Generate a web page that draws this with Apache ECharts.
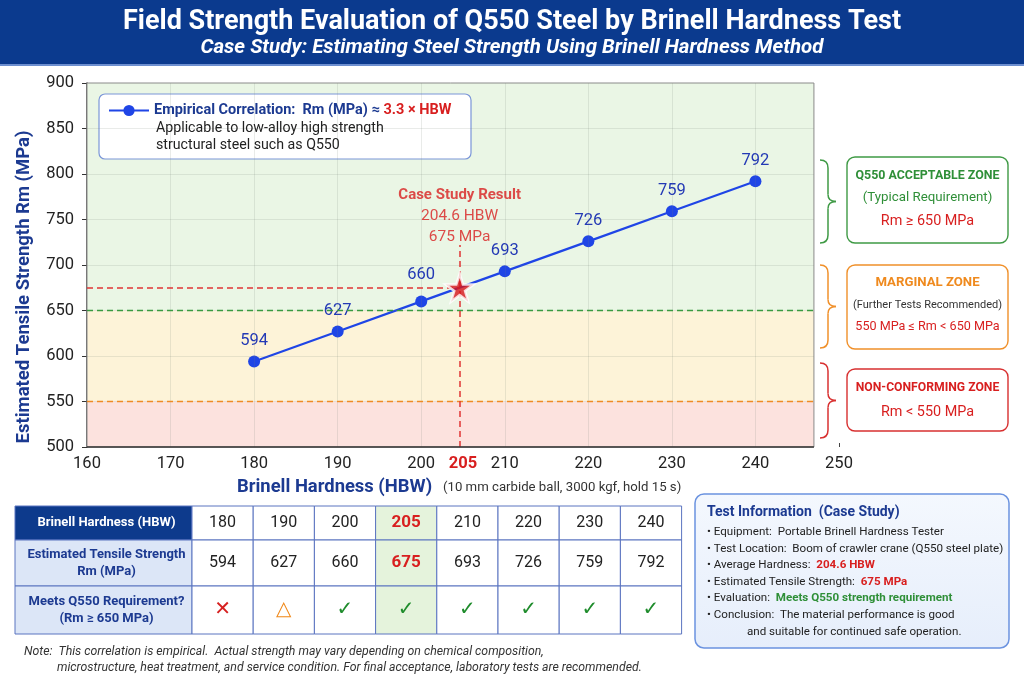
<!DOCTYPE html>
<html>
<head>
<meta charset="utf-8">
<script src="https://cdn.jsdelivr.net/npm/echarts@6.0.0/dist/echarts.min.js"></script>
<style>
  html, body { margin: 0; padding: 0; background: #fff; }
  #chart { width: 1024px; height: 683px; }
</style>
</head>
<body>
<div id="chart"></div>
<script>
// chart data
const hardness = [180, 190, 200, 210, 220, 230, 240];
const strength = [594, 627, 660, 693, 726, 759, 792];
const caseHardness = 204.6;
const caseStrength = 675;
const xTicks = [160, 170, 180, 190, 200, 210, 220, 230, 240, 250];
const yTicks = [500, 550, 600, 650, 700, 750, 800, 850, 900];
const acceptLimit = 650;
const marginLimit = 550;

// table data
const tableHardness = [180, 190, 200, 205, 210, 220, 230, 240];
const tableStrength = [594, 627, 660, 675, 693, 726, 759, 792];
const tableMeets = ['no', 'partial', 'yes', 'yes', 'yes', 'yes', 'yes', 'yes'];
const caseColumn = 3;

const FONT = 'Roboto, "Noto Sans", sans-serif';
const NAVY = '#1c3a91';
const RED = '#d81f1f';
const GREEN = '#2f8f38';
const ORANGE = '#ef8a1e';
const BLUE = '#1f45e6';

const plotEnd = 247; // where the shaded plot area stops
const yMin = yTicks[0], yMax = yTicks[yTicks.length - 1];
const xMin = xTicks[0];

const myChart = echarts.init(document.getElementById('chart'));

// grid lines only inside the shaded area
const gridLines = [];
xTicks.filter(v => v > xMin && v < plotEnd).forEach(v => {
    gridLines.push([{ coord: [v, yMin] }, { coord: [v, yMax] }]);
});
yTicks.filter(v => v > yMin && v < yMax).forEach(v => {
    gridLines.push([{ coord: [xMin, v] }, { coord: [plotEnd, v] }]);
});

// curly brace made of curves and lines
const brace = (top, bottom, color) => {
    const mid = (top + bottom) / 2;
    const st = { fill: 'none', stroke: color, lineWidth: 1.5 };
    const bz = (x1, y1, cx, cy, x2, y2) => ({ type: 'bezierCurve', z: 5, shape: { x1, y1, x2, y2, cpx1: cx, cpy1: cy }, style: st });
    const ln = (x1, y1, x2, y2) => ({ type: 'line', z: 5, shape: { x1, y1, x2, y2 }, style: st });
    return [
        bz(820, top, 828, top, 828, top + 8),
        ln(828, top + 8, 828, mid - 7),
        bz(828, mid - 7, 828, mid, 836, mid),
        bz(836, mid, 828, mid, 828, mid + 7),
        ln(828, mid + 7, 828, bottom - 8),
        bz(828, bottom - 8, 828, bottom, 820, bottom),
    ];
};

const txt = (x, y, text, opts) => ({
    type: 'text', z: 10, x, y,
    style: Object.assign({ text, align: 'center', verticalAlign: 'middle', fontFamily: FONT, fontSize: 13, fill: '#222' }, opts || {}),
});

const graphics = [];

// title banner
graphics.push({ type: 'rect', z: 1, shape: { x: 0, y: 0, width: 1024, height: 65 }, style: { fill: '#0b3a8e' } });
graphics.push({ type: 'rect', z: 1, shape: { x: 0, y: 64, width: 1024, height: 2 }, style: { fill: '#6d8fd0' } });
graphics.push(txt(512, 22, 'Field Strength Evaluation of Q550 Steel by Brinell Hardness Test', { fill: '#fff', fontSize: 27, fontWeight: 'bold' }));
graphics.push(txt(512, 48, 'Case Study: Estimating Steel Strength Using Brinell Hardness Method', { fill: '#fff', fontSize: 20.5, fontStyle: 'italic', fontWeight: 'bold' }));

// axis titles
graphics.push({
    type: 'text', z: 10, x: 24, y: 287, rotation: Math.PI / 2,
    style: { text: 'Estimated Tensile Strength Rm (MPa)', align: 'center', verticalAlign: 'middle', fontFamily: FONT, fontSize: 18.5, fontWeight: 'bold', fill: NAVY },
});
graphics.push(txt(237, 487, 'Brinell Hardness (HBW)', { align: 'left', fontSize: 18.4, fontWeight: 'bold', fill: NAVY }));
graphics.push(txt(443, 488, '(10 mm carbide ball, 3000 kgf, hold 15 s)', { align: 'left', fontSize: 13.2, fill: '#333' }));

// legend box
graphics.push({ type: 'rect', z: 3, shape: { x: 99, y: 94, width: 372, height: 65, r: 6 }, style: { fill: '#fff', stroke: '#7b96d8', lineWidth: 1.2 } });
graphics.push(txt(156, 128, 'Applicable to low-alloy high strength', { align: 'left', fontSize: 14.2 }));
graphics.push(txt(156, 145, 'structural steel such as Q550', { align: 'left', fontSize: 14.2 }));

// zone braces and boxes
const zones = [
    { top: 160, bottom: 243, box: [157, 86], color: '#3f9a45', lines: [
        ['Q550 ACCEPTABLE ZONE', { fontWeight: 'bold', fill: GREEN, fontSize: 12.4 }, 176],
        ['(Typical Requirement)', { fill: GREEN, fontSize: 13.3 }, 198],
        ['Rm ≥ ' + acceptLimit + ' MPa', { fill: RED, fontSize: 14.4 }, 221]] },
    { top: 265, bottom: 348, box: [265, 84], color: '#f0902a', lines: [
        ['MARGINAL ZONE', { fontWeight: 'bold', fill: ORANGE, fontSize: 13.2 }, 283],
        ['(Further Tests Recommended)', { fill: '#333', fontSize: 11 }, 305],
        [marginLimit + ' MPa ≤ Rm < ' + acceptLimit + ' MPa', { fill: RED, fontSize: 12.6 }, 327]] },
    { top: 363, bottom: 438, box: [369, 62], color: '#d83030', lines: [
        ['NON-CONFORMING ZONE', { fontWeight: 'bold', fill: RED, fontSize: 12.2 }, 388],
        ['Rm < ' + marginLimit + ' MPa', { fill: RED, fontSize: 14.4 }, 412]] },
];
zones.forEach(zn => {
    brace(zn.top, zn.bottom, zn.color).forEach(el => graphics.push(el));
    graphics.push({ type: 'rect', z: 5, shape: { x: 847, y: zn.box[0], width: 161, height: zn.box[1], r: 8 }, style: { fill: '#fff', stroke: zn.color, lineWidth: 1.4 } });
    zn.lines.forEach(l => graphics.push(txt(927.5, l[2], l[0], l[1])));
});

// table
const tblLeft = 15, headW = 177, colW = 61.2;
const rowY = [506, 540, 586, 634];
const heads = ['Brinell Hardness (HBW)', 'Estimated Tensile Strength\nRm (MPa)', 'Meets Q550 Requirement?\n(Rm ≥ ' + acceptLimit + ' MPa)'];
const marks = {
    no: ['✕', '#d62020'],
    partial: ['△', '#f08a1c'],
    yes: ['✓', '#1f8c2c'],
};
heads.forEach((h, r) => {
    const y0 = rowY[r], hgt = rowY[r + 1] - rowY[r];
    graphics.push({ type: 'rect', z: 4, shape: { x: tblLeft, y: y0, width: headW, height: hgt },
        style: { fill: r === 0 ? '#0d3a8c' : '#dce6f7', stroke: '#5b74c0', lineWidth: 1 } });
    graphics.push(txt(tblLeft + headW / 2 + 3, y0 + hgt / 2, h, { fontSize: 13, fontWeight: 'bold', fill: r === 0 ? '#fff' : NAVY, lineHeight: 16.5 }));
    tableHardness.forEach((hb, c) => {
        const x0 = tblLeft + headW + c * colW;
        const isCase = c === caseColumn;
        graphics.push({ type: 'rect', z: 4, shape: { x: x0, y: y0, width: colW, height: hgt },
            style: { fill: isCase ? '#e5f3dc' : '#fff', stroke: '#5b74c0', lineWidth: 1 } });
        let t, o;
        if (r === 0) { t = String(hb); o = { fontSize: 16 }; }
        else if (r === 1) { t = String(tableStrength[c]); o = { fontSize: 16 }; }
        else { t = marks[tableMeets[c]][0]; o = { fontSize: 20, fill: marks[tableMeets[c]][1], fontFamily: '"DejaVu Sans", sans-serif', fontWeight: 'bold' }; }
        if (isCase && r < 2) { o.fill = RED; o.fontWeight = 'bold'; o.fontSize = 17; }
        graphics.push(txt(x0 + colW / 2, y0 + hgt / 2, t, o));
    });
});

// note
graphics.push(txt(24, 652, 'Note:  This correlation is empirical.  Actual strength may vary depending on chemical composition,', { align: 'left', fontSize: 12.3, fontStyle: 'italic', fill: '#333' }));
graphics.push(txt(57, 668, 'microstructure, heat treatment, and service condition. For final acceptance, laboratory tests are recommended.', { align: 'left', fontSize: 12.3, fontStyle: 'italic', fill: '#333' }));

// test information box
graphics.push({ type: 'rect', z: 4, shape: { x: 695, y: 494, width: 314, height: 154, r: 9 },
    style: {
        fill: new echarts.graphic.LinearGradient(0, 0, 0, 1, [{ offset: 0, color: '#f4f8fe' }, { offset: 1, color: '#e6eefb' }]),
        stroke: '#6b93e0', lineWidth: 1.5,
    } });
graphics.push(txt(707, 512, 'Test Information  (Case Study)', { align: 'left', fontSize: 14, fontWeight: 'bold', fill: NAVY }));
const infoRich = {
    k: { fontFamily: FONT, fontSize: 11.6, fill: '#222' },
    r: { fontFamily: FONT, fontSize: 11.6, fill: RED, fontWeight: 'bold' },
    g: { fontFamily: FONT, fontSize: 11.6, fill: GREEN, fontWeight: 'bold' },
};
const infoLines = [
    '{k|• Equipment:  Portable Brinell Hardness Tester}',
    '{k|• Test Location:  Boom of crawler crane (Q550 steel plate)}',
    '{k|• Average Hardness:  }{r|' + caseHardness + ' HBW}',
    '{k|• Estimated Tensile Strength:  }{r|' + caseStrength + ' MPa}',
    '{k|• Evaluation:  }{g|Meets Q550 strength requirement}',
    '{k|• Conclusion:  The material performance is good}',
];
infoLines.forEach((l, i) => graphics.push(txt(707, 532 + i * 16.6, l, { align: 'left', rich: infoRich })));
graphics.push(txt(747, 532 + 6 * 16.6, 'and suitable for continued safe operation.', { align: 'left', fontSize: 11.6 }));

const dashed = (color, width) => ({ color, width, type: [6, 4] });

// correlation points; the 660 label sits a little higher to clear the line
const linePoints = hardness.map((h, i) => {
    const item = { value: [h, strength[i]] };
    if (strength[i] === 660) item.label = { distance: 12 };
    return item;
});

myChart.setOption({
    animation: false,
    backgroundColor: '#fff',
    textStyle: { fontFamily: FONT },
    grid: { left: 87, top: 83, width: 752, height: 364 },
    legend: {
        data: ['Empirical Correlation'],
        left: 108, top: 103, itemWidth: 40, itemHeight: 14, z: 6, padding: 0,
        selectedMode: false,
        formatter: () => '{a|Empirical Correlation:  Rm (MPa) ≈ }{r|3.3 × HBW}',
        textStyle: {
            rich: {
                a: { fontFamily: FONT, fontSize: 14.5, fontWeight: 'bold', color: NAVY },
                r: { fontFamily: FONT, fontSize: 14.5, fontWeight: 'bold', color: RED },
            },
        },
    },
    xAxis: {
        type: 'value', min: xMin, max: xTicks[xTicks.length - 1], interval: 10,
        axisLine: { show: false },
        axisTick: { show: true, inside: true, length: 4, lineStyle: { color: '#444' } },
        axisLabel: {
            fontSize: 16.5, color: '#222', margin: 8,
            customValues: xTicks.concat([205]),
            formatter: v => (v === 205 ? '{r|205}' : String(v)),
            rich: { r: { fontSize: 16.5, color: RED, fontWeight: 'bold', fontFamily: FONT } },
        },
        splitLine: { show: false },
    },
    yAxis: {
        type: 'value', min: yMin, max: yMax, interval: 50,
        axisLine: { show: true, lineStyle: { color: '#333', width: 1.5 } },
        axisTick: { show: true, length: 5, lineStyle: { color: '#333' } },
        axisLabel: { fontSize: 16.5, color: '#222', margin: 13 },
        splitLine: { show: false },
    },
    series: [
        {
            name: 'zones', type: 'line', data: [], silent: true, z: 1,
            markArea: {
                silent: true,
                data: [
                    [{ coord: [xMin, acceptLimit], itemStyle: { color: '#eaf6e5' } }, { coord: [plotEnd, yMax] }],
                    [{ coord: [xMin, marginLimit], itemStyle: { color: '#fdf3d8' } }, { coord: [plotEnd, acceptLimit] }],
                    [{ coord: [xMin, yMin], itemStyle: { color: '#fce2de' } }, { coord: [plotEnd, marginLimit] }],
                ],
            },
            markLine: {
                silent: true, symbol: 'none', label: { show: false },
                lineStyle: { color: 'rgba(120,130,120,0.16)', width: 1, type: 'solid' },
                data: gridLines,
            },
        },
        {
            name: 'frame', type: 'line', data: [], silent: true, z: 2,
            markArea: {
                silent: true,
                data: [[{ coord: [xMin, yMin], itemStyle: { color: 'rgba(0,0,0,0)', borderColor: '#8a8a8a', borderWidth: 1 } }, { coord: [plotEnd, yMax] }]],
            },
            markLine: {
                silent: true, symbol: 'none', label: { show: false },
                data: [
                    [{ coord: [xMin, acceptLimit], lineStyle: dashed('#3a9a40', 1.3) }, { coord: [plotEnd, acceptLimit] }],
                    [{ coord: [xMin, marginLimit], lineStyle: dashed('#f08a24', 1.3) }, { coord: [plotEnd, marginLimit] }],
                    [{ coord: [xMin, caseStrength], lineStyle: dashed('#e03535', 1.5) }, { coord: [caseHardness, caseStrength] }],
                    [{ coord: [caseHardness, yMin], lineStyle: dashed('#e03535', 1.5) }, { coord: [caseHardness, 722] }],
                    [{ coord: [xMin, yMin], lineStyle: { color: '#333', width: 1.5, type: 'solid' } }, { coord: [plotEnd, yMin] }],
                ],
            },
        },
        {
            name: 'Empirical Correlation', type: 'line', z: 4,
            data: linePoints,
            symbol: 'circle', symbolSize: 12,
            lineStyle: { color: BLUE, width: 2.2 },
            itemStyle: { color: BLUE },
            label: { show: true, position: 'top', distance: 6, fontSize: 16.5, color: '#2339b5', fontFamily: FONT },
        },
        {
            name: 'Case Study', type: 'scatter', z: 6,
            data: [[caseHardness, caseStrength]],
            symbol: 'path://M12,0.8L14.7,8.9L23.2,8.9L16.3,13.9L18.9,22L12,17L5.1,22L7.7,13.9L0.8,8.9L9.3,8.9Z',
            symbolSize: 28,
            itemStyle: { color: '#d7141a', borderColor: '#fff', borderWidth: 2.5 },
            label: {
                show: true, position: 'top', distance: 25,
                formatter: '{t|Case Study Result}\n{v|' + caseHardness + ' HBW}\n{v|' + caseStrength + ' MPa}',
                rich: {
                    t: { fontFamily: FONT, fontSize: 15, fontWeight: 'bold', color: RED, lineHeight: 21 },
                    v: { fontFamily: FONT, fontSize: 15.5, color: RED, lineHeight: 21 },
                },
            },
        },
    ],
    graphic: graphics,
});
</script>
</body>
</html>
